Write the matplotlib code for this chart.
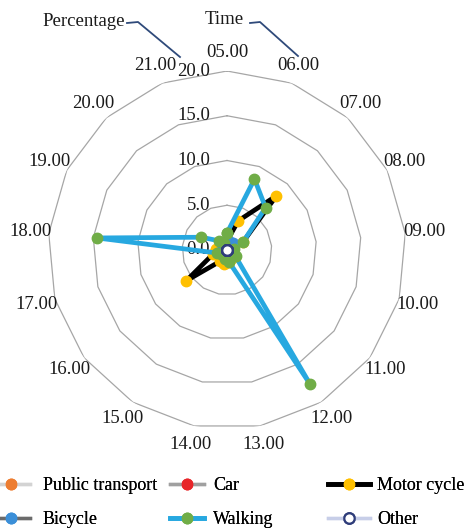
import numpy as np
import matplotlib
matplotlib.use("Agg")
import matplotlib.pyplot as plt
from matplotlib.lines import Line2D
import matplotlib.transforms as mtransforms

plt.rcParams['font.family'] = ['Liberation Serif', 'DejaVu Serif']

times = ['05.00', '06.00', '07.00', '08.00', '09.00', '10.00', '11.00', '12.00', '13.00',
         '14.00', '15.00', '16.00', '17.00', '18.00', '19.00', '20.00', '21.00']
public_transport = [0.3, 0.5, 0.6, 0.4, 0.2, 0.2, 0.3, 0.4, 0.3, 0.3, 0.2, 0.3, 0.4, 0.5, 0.3, 0.2, 0.2]
car = [0.2, 0.4, 0.5, 0.3, 0.2, 0.2, 0.2, 0.3, 0.3, 0.2, 0.2, 0.3, 0.3, 0.4, 0.3, 0.2, 0.1]
motor_cycle = [1.0, 3.5, 8.2, 2.0, 0.6, 0.4, 0.5, 1.0, 1.4, 1.6, 1.5, 5.7, 1.6, 1.2, 0.8, 0.5, 0.4]
bicycle = [0.4, 0.9, 1.0, 0.6, 0.3, 0.3, 0.4, 0.5, 0.4, 0.3, 0.3, 0.4, 0.5, 0.6, 0.4, 0.3, 0.3]
walking = [1.9, 8.5, 6.4, 2.0, 0.8, 0.6, 1.2, 17.6, 1.4, 1.0, 0.6, 0.8, 1.2, 14.6, 3.2, 1.4, 0.8]
other = [0.0] * 17
ring_levels = [5, 10, 15, 20]
ring_labels = ['0.0', '5.0', '10.0', '15.0', '20.0']
ring_label_values = [0, 5, 10, 15, 20]

FS = 13.5
LFS = 13
W, H = 468, 532
fig = plt.figure(figsize=(W / 100, H / 100), dpi=100)
cx, cy, R = 227, 250, 179
ax = fig.add_axes([(cx - R) / W, (H - cy - R) / H, 2 * R / W, 2 * R / H], projection='polar')
ax.set_theta_zero_location('N')
ax.set_theta_direction(-1)
ax.set_ylim(0, 20)
ax.grid(False)
ax.spines['polar'].set_visible(False)
ax.set_xticks([])
ax.set_yticks([])

n = len(times)
angles = np.arange(n) * 2 * np.pi / n
closed = np.append(angles, angles[0])

def close(v):
    return list(v) + [v[0]]

for lvl in ring_levels:
    ax.plot(closed, [lvl] * (n + 1), color='#A6A6A6', lw=0.9, zorder=1)

series = [
    ('Public transport', public_transport, '#D3D3D3', '#ED7D31', '#ED7D31', 2.4),
    ('Car', car, '#A0A0A0', '#E8262A', '#E8262A', 2.4),
    ('Motor cycle', motor_cycle, '#000000', '#FFC000', '#FFC000', 3.4),
    ('Bicycle', bicycle, '#6B6B6B', '#3B8FD8', '#3B8FD8', 2.4),
    ('Walking', walking, '#27A8E0', '#70AD47', '#70AD47', 3.4),
    ('Other', other, '#C7CEE8', '#2F3D7A', 'white', 2.4),
]
handles = {}
for i, (name, vals, lc, mec, mfc, lw) in enumerate(series):
    ln, = ax.plot(closed, close(vals), color=lc, lw=lw, marker='o', markersize=7.5,
                  markerfacecolor=mfc, markeredgecolor=mec, markeredgewidth=1.6 if name == 'Other' else 1.0,
                  label=name, zorder=3 + i, clip_on=False)
    handles[name] = ln

for ang, lab in zip(angles, times):
    ax.text(ang, 22.1, lab, ha='center', va='center', fontsize=FS, color='#1a1a1a')

off = mtransforms.offset_copy(ax.transData, fig=fig, x=-17, y=0, units='dots')
for v, lab in zip(ring_label_values, ring_labels):
    ax.text(0, v, lab, ha='right', va='center', fontsize=FS, color='#1a1a1a', transform=off, zorder=2)

# Axis title annotations
fig.text(42 / W, 1 - 21 / H, 'Percentage', ha='left', va='center', fontsize=FS, color='#1a1a1a')
fig.text(205 / W, 1 - 20 / H, 'Time', ha='left', va='center', fontsize=FS, color='#1a1a1a')
for xs, ys in [([127, 138, 180], [23, 22, 57]), ([250, 260, 298], [23, 22, 56])]:
    fig.add_artist(Line2D([x / W for x in xs], [1 - y / H for y in ys], transform=fig.transFigure,
                          color='#2F4A7A', lw=1.3))

cols = [
    (['Public transport', 'Bicycle'], -8, 2.1, 0.7),
    (['Car', 'Walking'], 170, 1.9, 0.5),
    (['Motor cycle', 'Other'], 328, 2.3, 0.4),
]
for names, x0, hl, tp in cols:
    leg = fig.legend([handles[k] for k in names], names, loc='upper left',
                     bbox_to_anchor=(x0 / W, 1 - 477 / H), frameon=False, fontsize=LFS,
                     handlelength=hl, handletextpad=tp, borderpad=0, borderaxespad=0,
                     labelspacing=0.95, numpoints=1)
    fig.add_artist(leg)

fig.savefig('out.png', dpi=100)
